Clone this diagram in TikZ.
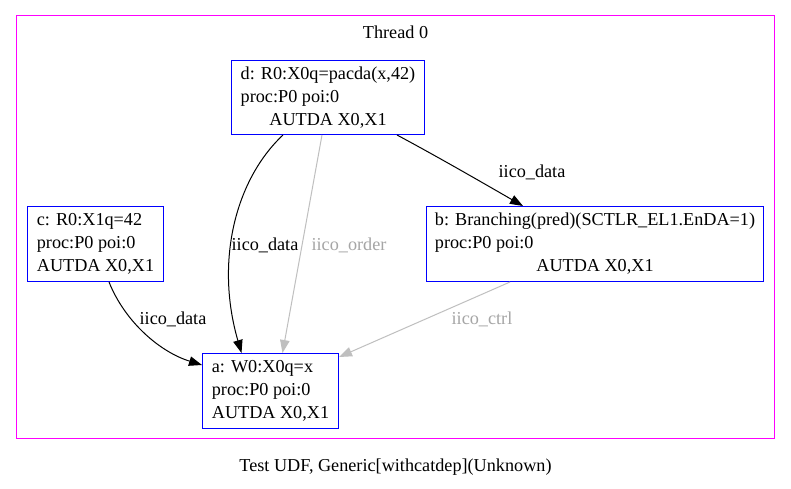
\documentclass[tikz,border=0pt]{standalone}
\usepackage{fontspec}
\setmainfont{Liberation Serif}
\usetikzlibrary{arrows.meta}
\definecolor{clmag}{RGB}{255,0,255}
\definecolor{evblue}{RGB}{0,0,255}
\begin{document}
\begin{tikzpicture}[x=1pt,y=-1pt,
  font=\fontsize{18.2}{23}\selectfont,
  evbox/.style={draw=evblue, line width=1pt, rectangle, inner sep=0pt, fill=white},
  dataedge/.style={draw=black, line width=1pt, -{Triangle[length=13pt,width=9.5pt]}},
  grayedge/.style={draw=black!25, line width=1pt, -{Triangle[length=13pt,width=9.5pt]}},
  lbl/.style={inner sep=0pt},
  glbl/.style={inner sep=0pt, text=black!35}]
\useasboundingbox (0,0) rectangle (791,489);
\fill[white] (0,0) rectangle (791,489);
\node[draw=clmag, line width=1pt, minimum width=758pt, minimum height=423pt, inner sep=0pt] (cl) at (395.5,227) {};
\node[lbl] (title) at (395.5,32) {Thread 0};
\node[lbl] (cap) at (395.5,467) {Test UDF, Generic[withcatdep](Unknown)};

\node[evbox, minimum width=193pt, minimum height=74pt] (d) at (328,97.5)
  {\begin{tabular}{@{}l@{}}d: R0:X0q=pacda(x,42)\\proc:P0 poi:0\\\multicolumn{1}{@{}c@{}}{AUTDA X0,X1}\end{tabular}};
\node[evbox, minimum width=136pt, minimum height=75pt] (c) at (95.5,244)
  {\begin{tabular}{@{}l@{}}c: R0:X1q=42\\proc:P0 poi:0\\AUTDA X0,X1\end{tabular}};
\node[evbox, minimum width=337pt, minimum height=75pt] (b) at (595,244)
  {\begin{tabular}{@{}l@{}}b: Branching(pred)(SCTLR\_EL1.EnDA=1)\\proc:P0 poi:0\\\multicolumn{1}{@{}c@{}}{AUTDA X0,X1}\end{tabular}};
\node[evbox, minimum width=136pt, minimum height=75pt] (a) at (270.5,391)
  {\begin{tabular}{@{}l@{}}a: W0:X0q=x\\proc:P0 poi:0\\AUTDA X0,X1\end{tabular}};

\draw[dataedge] ([xshift=-45pt]d.south) .. controls (235,180) and (215,262) .. ([xshift=-29pt]a.north);
\node[lbl] (l1) at (265,245) {iico\_data};
\draw[grayedge] ([xshift=-6pt]d.south) -- ([xshift=12pt]a.north);
\node[glbl] (l2) at (349,245) {iico\_order};
\draw[dataedge] ([xshift=-28pt]d.south east) .. controls (440,158) and (490,187) .. ([xshift=-72pt]b.north);
\node[lbl] (l3) at (532,172) {iico\_data};
\draw[dataedge] ([xshift=13.5pt]c.south) .. controls (125,322) and (160,352) .. ([yshift=-12pt]a.north west);
\node[lbl] (l4) at (173,319) {iico\_data};
\draw[grayedge] ([xshift=-85pt]b.south) -- ([yshift=-4pt]a.north east);
\node[glbl] (l5) at (482,319) {iico\_ctrl};
\end{tikzpicture}
\end{document}
